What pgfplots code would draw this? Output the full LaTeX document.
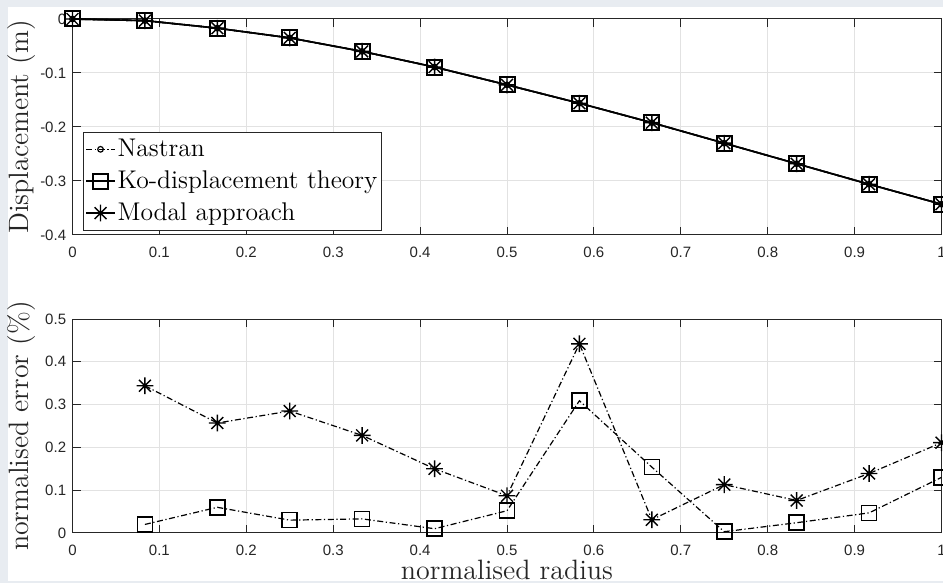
\documentclass[border=0pt]{standalone}
\usepackage{fontspec}
\setsansfont{Liberation Sans}
\usepackage{pgfplots}
\pgfplotsset{compat=1.18}
\definecolor{bgc}{RGB}{232,236,241}
\definecolor{axc}{RGB}{38,38,38}
\definecolor{gridc}{RGB}{226,226,226}
\pgfdeclareplotmark{mstar}{%
 \pgfpathmoveto{\pgfqpoint{-\pgfplotmarksize}{0pt}}\pgfpathlineto{\pgfqpoint{\pgfplotmarksize}{0pt}}%
 \pgfpathmoveto{\pgfqpoint{0pt}{-\pgfplotmarksize}}\pgfpathlineto{\pgfqpoint{0pt}{\pgfplotmarksize}}%
 \pgfpathmoveto{\pgfqpoint{-0.7071\pgfplotmarksize}{-0.7071\pgfplotmarksize}}\pgfpathlineto{\pgfqpoint{0.7071\pgfplotmarksize}{0.7071\pgfplotmarksize}}%
 \pgfpathmoveto{\pgfqpoint{-0.7071\pgfplotmarksize}{0.7071\pgfplotmarksize}}\pgfpathlineto{\pgfqpoint{0.7071\pgfplotmarksize}{-0.7071\pgfplotmarksize}}%
 \pgfusepathqstroke}
\pgfplotsset{
  mlab/.style={
    scale only axis, width=434.5pt, xmin=0, xmax=1,
    xtick={0,0.1,0.2,0.3,0.4,0.5,0.6,0.7,0.8,0.9,1},
    xticklabels={0,0.1,0.2,0.3,0.4,0.5,0.6,0.7,0.8,0.9,1},
    grid=major, major grid style={gridc, line width=0.5pt},
    axis line style={axc, line width=0.5pt},
    tick align=inside, major tick length=4pt,
    every tick/.style={axc, line width=0.5pt},
    tick label style={font=\sffamily\fontsize{7.5}{9}\selectfont, text=axc},
    xticklabel style={anchor=base, yshift=-11.2pt},
    yticklabel style={anchor=east, inner sep=0pt, xshift=-3pt},
    label style={font=\fontsize{14}{16}\selectfont, text=axc},
    ylabel style={at={(axis description cs:-0.0581,0.5)}, anchor=center},
    axis background/.style={fill=white},
    clip marker paths=false,
  },
  dd/.style={dash pattern=on 3pt off 1.3pt on 0.6pt off 1.3pt},
}
\begin{document}
\begin{tikzpicture}
\fill[bgc] (0,0) rectangle (471.5pt,291.5pt);
\fill[white] (4pt,1pt) rectangle (471.5pt,288.15pt);
\useasboundingbox (0,0) rectangle (471.5pt,291.5pt);
\begin{axis}[mlab, at={(36.25pt,174pt)}, anchor=south west, height=108pt,
  ymin=-0.4, ymax=0, ytick={-0.4,-0.3,-0.2,-0.1,0}, yticklabels={-0.4,-0.3,-0.2,-0.1,0},
  ylabel={Displacement (m)},
  legend style={at={(axis description cs:0.0121,0.477)}, anchor=north west,
    draw=axc, line width=0.5pt, font=\fontsize{12.8}{15}\selectfont, text=black,
    inner xsep=1pt, inner ysep=1.5pt, row sep=2pt,
    nodes={inner xsep=1pt, inner ysep=1.8pt}},
  legend cell align=left,
  legend image code/.code={\draw[mark repeat=2,mark phase=2,#1] plot coordinates {(0cm,0cm) (0.25cm,0cm) (0.5cm,0cm)};},
]
\addplot[black, line width=0.8pt, dd, mark=o, mark size=1.4pt, mark options={solid, line width=0.6pt}] coordinates {
(0,0) (0.08333,-0.003) (0.16667,-0.017) (0.25,-0.035) (0.33333,-0.060) (0.41667,-0.089) (0.5,-0.122)
(0.58333,-0.156) (0.66667,-0.192) (0.75,-0.230) (0.83333,-0.268) (0.91667,-0.306) (1,-0.343)};
\addlegendentry{Nastran}
\addplot[black, line width=0.8pt, mark=square, mark size=3.75pt, mark options={solid, line width=1pt}] coordinates {
(0,0) (0.08333,-0.003) (0.16667,-0.017) (0.25,-0.035) (0.33333,-0.060) (0.41667,-0.089) (0.5,-0.122)
(0.58333,-0.156) (0.66667,-0.192) (0.75,-0.230) (0.83333,-0.268) (0.91667,-0.306) (1,-0.343)};
\addlegendentry{Ko-displacement theory}
\addplot[black, line width=0.8pt, mark=mstar, mark size=4.2pt, mark options={solid, line width=0.7pt}] coordinates {
(0,0) (0.08333,-0.003) (0.16667,-0.017) (0.25,-0.035) (0.33333,-0.060) (0.41667,-0.089) (0.5,-0.122)
(0.58333,-0.156) (0.66667,-0.192) (0.75,-0.230) (0.83333,-0.268) (0.91667,-0.306) (1,-0.343)};
\addlegendentry{Modal approach}
\end{axis}
\begin{axis}[mlab, at={(36.25pt,25pt)}, anchor=south west, height=107pt,
  ymin=0, ymax=0.5, ytick={0,0.1,0.2,0.3,0.4,0.5}, yticklabels={0,0.1,0.2,0.3,0.4,0.5},
  ylabel={normalised error (\%)}, xlabel={normalised radius},
  xlabel style={at={(axis description cs:0.5,-0.2196)}, anchor=base},
]
\addplot[black, line width=0.6pt, dd, mark=square, mark size=3.75pt, mark options={solid, line width=0.8pt}] coordinates {
(0.08333,0.020) (0.16667,0.060) (0.25,0.030) (0.33333,0.033) (0.41667,0.010) (0.5,0.052)
(0.58333,0.309) (0.66667,0.154) (0.75,0.003) (0.83333,0.024) (0.91667,0.047) (1,0.130)};
\addplot[black, line width=0.6pt, dd, mark=mstar, mark size=4.2pt, mark options={solid, line width=0.7pt}] coordinates {
(0.08333,0.344) (0.16667,0.257) (0.25,0.285) (0.33333,0.228) (0.41667,0.150) (0.5,0.087)
(0.58333,0.442) (0.66667,0.031) (0.75,0.113) (0.83333,0.076) (0.91667,0.139) (1,0.211)};
\end{axis}
\end{tikzpicture}
\end{document}
